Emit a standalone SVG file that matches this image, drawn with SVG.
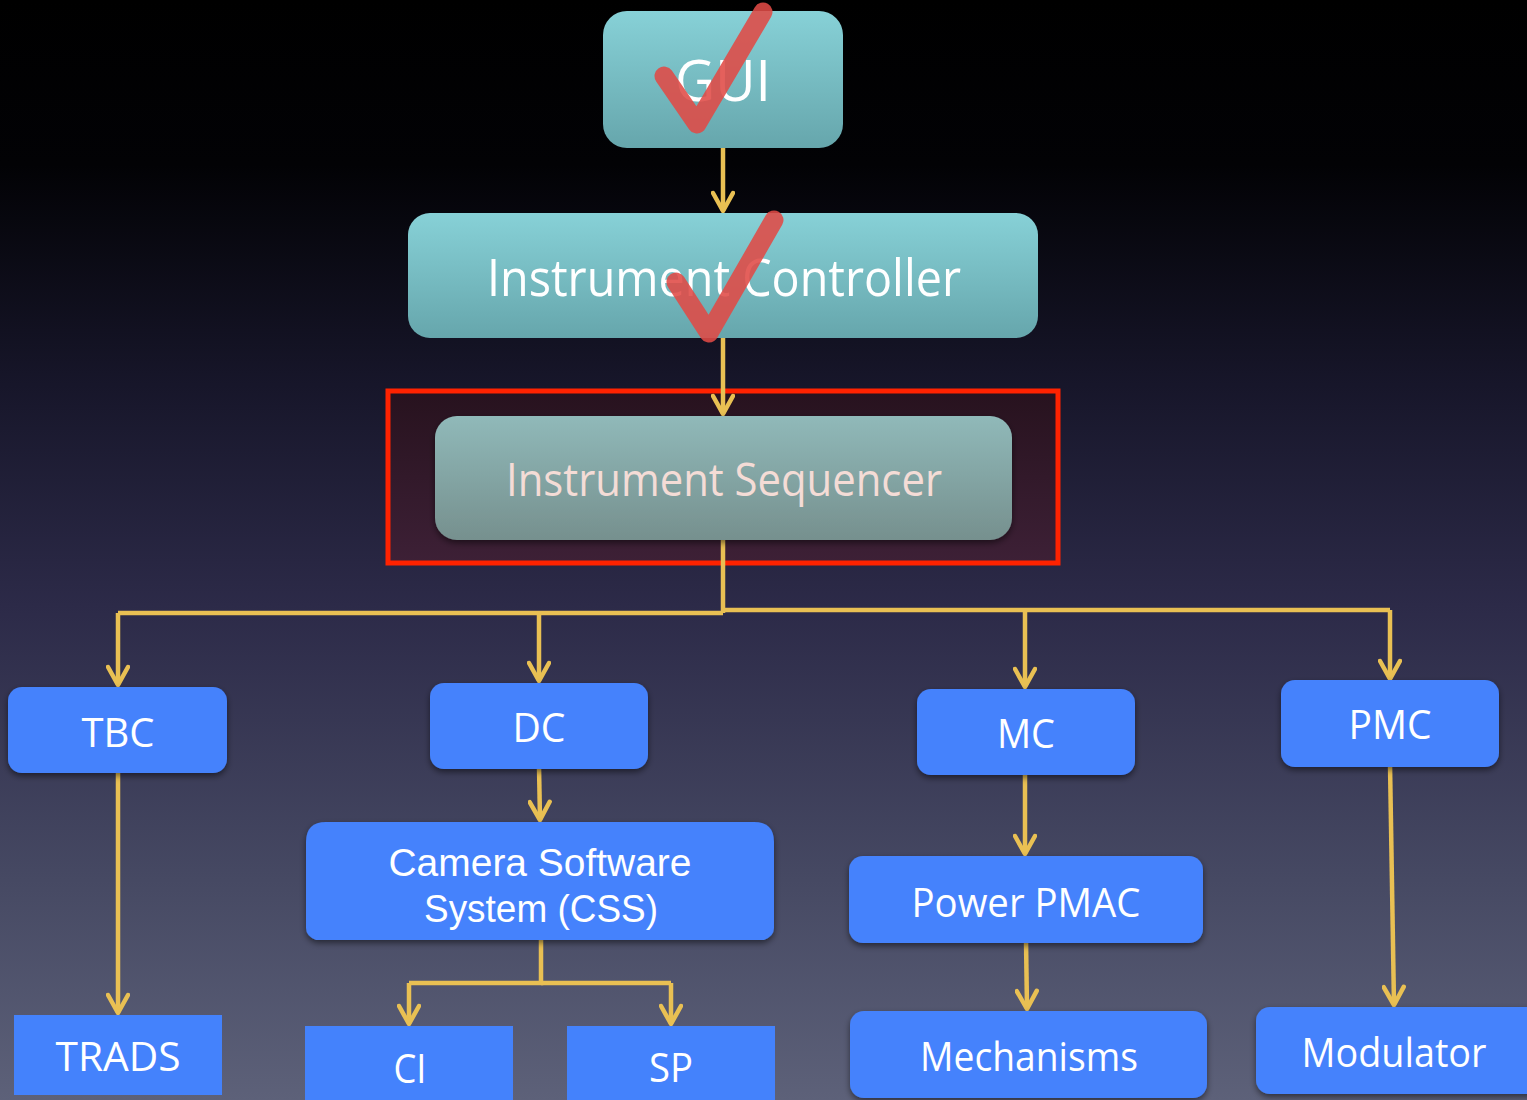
<svg xmlns="http://www.w3.org/2000/svg" width="1527" height="1100" viewBox="0 0 1527 1100">
<defs>
<linearGradient id="bg" x1="0" y1="0" x2="0" y2="1">
<stop offset="0" stop-color="#000000"/>
<stop offset="0.15" stop-color="#020205"/>
<stop offset="0.35" stop-color="#17162a"/>
<stop offset="0.55" stop-color="#2c2a48"/>
<stop offset="0.8" stop-color="#464963"/>
<stop offset="1" stop-color="#5d6179"/>
</linearGradient>
<linearGradient id="teal" x1="0" y1="0" x2="0" y2="1">
<stop offset="0" stop-color="#87d1d7"/>
<stop offset="1" stop-color="#66a6ac"/>
</linearGradient>
<linearGradient id="seq" x1="0" y1="0" x2="0" y2="1">
<stop offset="0" stop-color="#90b9b9"/>
<stop offset="1" stop-color="#76908e"/>
</linearGradient>
<linearGradient id="hl" x1="0" y1="0" x2="0" y2="1">
<stop offset="0" stop-color="#27121e"/>
<stop offset="1" stop-color="#3d2036"/>
</linearGradient>
<filter id="sh" x="-10%" y="-10%" width="120%" height="130%">
<feDropShadow dx="0" dy="3" stdDeviation="3" flood-color="#000" flood-opacity="0.5"/>
</filter>
<marker id="ahd" viewBox="0 0 24 24" refX="21" refY="12" markerWidth="24" markerHeight="24" markerUnits="userSpaceOnUse" orient="auto">
<path d="M3,2 L21,12 L3,22" fill="none" stroke="#e9c053" stroke-width="4.5" stroke-linecap="round" stroke-linejoin="round"/>
</marker>
</defs>
<style>
.t{font-family:"Open Sans","Noto Sans","Liberation Sans",sans-serif;fill:#ffffff;text-anchor:middle}
.t2{font-family:"Liberation Sans","Arial",sans-serif;fill:#ffffff;text-anchor:middle}
.b{fill:#4482fc;filter:url(#sh)}
.c{fill:none;stroke:#e9c053;stroke-width:4.5;stroke-linejoin:miter}
.ca{fill:none;stroke:#e9c053;stroke-width:4.5;marker-end:url(#ahd)}
.chk{fill:none;stroke:#e04a45;stroke-opacity:0.88;stroke-width:19;stroke-linecap:round;stroke-linejoin:round}
</style>
<rect x="0" y="0" width="1527" height="1100" fill="url(#bg)"/>

<g id="highlight">
<rect x="388" y="391" width="670" height="172" fill="url(#hl)" stroke="#ff2200" stroke-width="5"/>
</g>

<g id="connectors">
<line class="ca" x1="723" y1="148" x2="723" y2="211"/>
<line class="ca" x1="723" y1="338" x2="723" y2="414"/>
<polyline class="c" points="723,540 723,613"/>
<polyline class="c" points="723,613 118,613"/>
<polyline class="c" points="723,610 1390,610"/>
<line class="ca" x1="118" y1="613" x2="118" y2="685"/>
<line class="ca" x1="539" y1="611" x2="539" y2="681"/>
<line class="ca" x1="1025" y1="612" x2="1025" y2="687"/>
<line class="ca" x1="1390" y1="610" x2="1390" y2="679"/>
<line class="ca" x1="118" y1="770" x2="118" y2="1013"/>
<line class="ca" x1="539" y1="766" x2="540" y2="820"/>
<polyline class="c" points="541,940 541,983 409,983"/>
<polyline class="c" points="541,983 671,983"/>
<line class="ca" x1="409" y1="983" x2="409" y2="1024"/>
<line class="ca" x1="671" y1="983" x2="671" y2="1024"/>
<line class="ca" x1="1025" y1="772" x2="1025" y2="854"/>
<line class="ca" x1="1026" y1="940" x2="1027" y2="1009"/>
<line class="ca" x1="1390" y1="764" x2="1394" y2="1005"/>
</g>

<g id="gui">
<rect x="603" y="11" width="240" height="137" rx="24" fill="url(#teal)"/>
<text class="t" x="723" y="101" font-size="57" textLength="96" lengthAdjust="spacingAndGlyphs">GUI</text>
<path class="chk" d="M664,76 L697,124 L763,12"/>
</g>

<g id="instrument-controller">
<rect x="408" y="213" width="630" height="125" rx="22" fill="url(#teal)"/>
<text class="t" x="724" y="296" font-size="52" textLength="474" lengthAdjust="spacingAndGlyphs">Instrument Controller</text>
<path class="chk" d="M676,282 L709,333 L774,220"/>
</g>

<g id="instrument-sequencer">
<rect x="435" y="416" width="577" height="124" rx="22" fill="url(#seq)" filter="url(#sh)"/>
<text class="t" x="724" y="496" font-size="45" textLength="436" lengthAdjust="spacingAndGlyphs" style="fill:#f4dcd6">Instrument Sequencer</text>
</g>

<g id="tbc">
<rect class="b" x="8" y="687" width="219" height="86" rx="14"/>
<text class="t" x="118" y="747" font-size="40" textLength="73" lengthAdjust="spacingAndGlyphs">TBC</text>
</g>
<g id="dc">
<rect class="b" x="430" y="683" width="218" height="86" rx="14"/>
<text class="t" x="539" y="742" font-size="40" textLength="53" lengthAdjust="spacingAndGlyphs">DC</text>
</g>
<g id="mc">
<rect class="b" x="917" y="689" width="218" height="86" rx="14"/>
<text class="t" x="1026" y="748" font-size="40" textLength="58" lengthAdjust="spacingAndGlyphs">MC</text>
</g>
<g id="pmc">
<rect class="b" x="1281" y="680" width="218" height="87" rx="14"/>
<text class="t" x="1390" y="739" font-size="40" textLength="83" lengthAdjust="spacingAndGlyphs">PMC</text>
</g>

<g id="css">
<path class="b" d="M326,822 H754 Q774,822 774,842 V928 Q774,936 764,940 H316 Q306,936 306,928 V842 Q306,822 326,822 Z"/>
<text class="t2" x="540" y="876" font-size="38" textLength="303" lengthAdjust="spacingAndGlyphs">Camera Software</text>
<text class="t2" x="541" y="922" font-size="38" textLength="234" lengthAdjust="spacingAndGlyphs">System (CSS)</text>
</g>

<g id="trads">
<rect x="14" y="1015" width="208" height="80" fill="#4482fc"/>
<text class="t" x="118" y="1071" font-size="40" textLength="125" lengthAdjust="spacingAndGlyphs">TRADS</text>
</g>
<g id="ci">
<rect x="305" y="1026" width="208" height="74" fill="#4482fc"/>
<text class="t" x="410" y="1083" font-size="40" textLength="33" lengthAdjust="spacingAndGlyphs">CI</text>
</g>
<g id="sp">
<rect x="567" y="1026" width="208" height="74" fill="#4482fc"/>
<text class="t" x="671" y="1082" font-size="40" textLength="44" lengthAdjust="spacingAndGlyphs">SP</text>
</g>

<g id="power-pmac">
<rect class="b" x="849" y="856" width="354" height="87" rx="14"/>
<text class="t" x="1026" y="917" font-size="40" textLength="229" lengthAdjust="spacingAndGlyphs">Power PMAC</text>
</g>
<g id="mechanisms">
<rect class="b" x="850" y="1011" width="357" height="87" rx="14"/>
<text class="t" x="1029" y="1071" font-size="40" textLength="218" lengthAdjust="spacingAndGlyphs">Mechanisms</text>
</g>
<g id="modulator">
<rect class="b" x="1256" y="1007" width="285" height="87" rx="14"/>
<text class="t" x="1394" y="1067" font-size="40" textLength="185" lengthAdjust="spacingAndGlyphs">Modulator</text>
</g>
</svg>
